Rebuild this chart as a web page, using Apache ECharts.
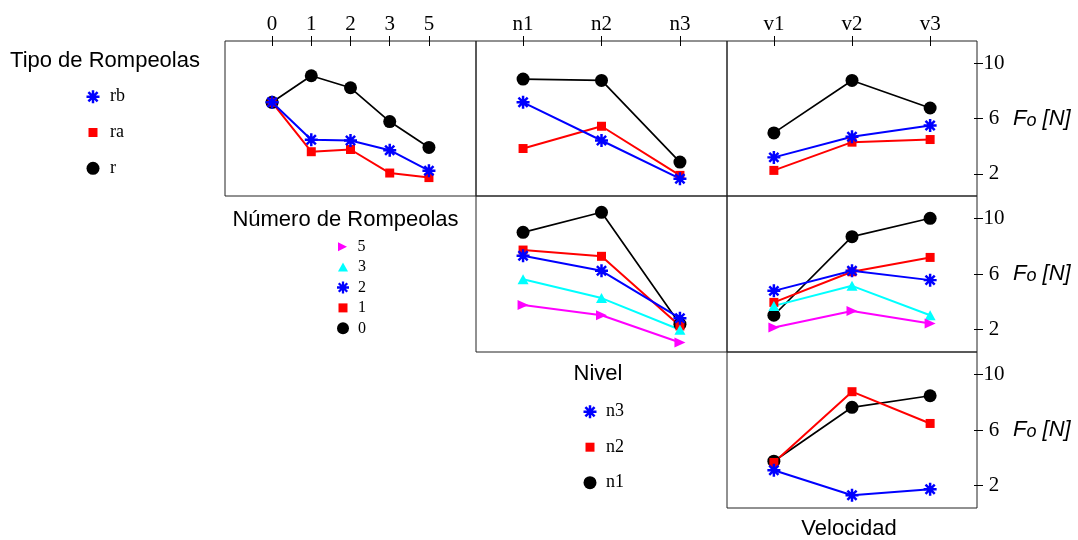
<!DOCTYPE html>
<html>
<head>
<meta charset="utf-8">
<script src="https://cdn.jsdelivr.net/npm/echarts@6/dist/echarts.min.js"></script>
<style>
  html, body { margin: 0; padding: 0; background: #fff; }
  #chart { width: 1078px; height: 540px; }
</style>
</head>
<body>
<div id="chart"></div>
<script>
// Factor levels (x axes)
const numeroLevels = ['0', '1', '2', '3', '5'];
const nivelLevels = ['n1', 'n2', 'n3'];
const velocidadLevels = ['v1', 'v2', 'v3'];
const yTickValues = [2, 6, 10];

// Mean Fo [N] by Tipo de Rompeolas across Número de Rompeolas
const rbByNumero = [7.17, 4.46, 4.41, 3.71, 2.23];
const raByNumero = [7.17, 3.60, 3.76, 2.06, 1.73];
const rByNumero  = [7.17, 9.09, 8.22, 5.78, 3.91];

// Mean Fo [N] by Tipo de Rompeolas across Nivel
const rbByNivel = [7.17, 4.41, 1.65];
const raByNivel = [3.83, 5.44, 1.89];
const rByNivel  = [8.85, 8.75, 2.85];

// Mean Fo [N] by Tipo de Rompeolas across Velocidad
const rbByVelocidad = [3.19, 4.68, 5.49];
const raByVelocidad = [2.25, 4.29, 4.48];
const rByVelocidad  = [4.96, 8.75, 6.76];

// Mean Fo [N] by Número de Rompeolas across Nivel
const num0ByNivel = [8.99, 10.43, 2.40];
const num1ByNivel = [7.72, 7.27, 2.27];
const num2ByNivel = [7.31, 6.23, 2.83];
const num3ByNivel = [5.63, 4.27, 2.00];
const num5ByNivel = [3.78, 3.04, 1.08];

// Mean Fo [N] by Número de Rompeolas across Velocidad
const num0ByVelocidad = [3.04, 8.68, 10.00];
const num1ByVelocidad = [3.96, 6.16, 7.19];
const num2ByVelocidad = [4.79, 6.23, 5.56];
const num3ByVelocidad = [3.71, 5.15, 3.04];
const num5ByVelocidad = [2.16, 3.35, 2.45];

// Mean Fo [N] by Nivel across Velocidad
const n1ByVelocidad = [3.76, 7.63, 8.46];
const n2ByVelocidad = [3.67, 8.75, 6.47];
const n3ByVelocidad = [3.11, 1.32, 1.75];

// ---- marker shapes ----
const ASTERISK = (() => {
  const L = 10, w = 1.9;
  let d = '';
  for (const deg of [0, 45, 90, 135]) {
    const a = deg * Math.PI / 180;
    const ux = Math.cos(a), uy = Math.sin(a), vx = -uy, vy = ux;
    const p = [
      [L * ux + w * vx, L * uy + w * vy],
      [-L * ux + w * vx, -L * uy + w * vy],
      [-L * ux - w * vx, -L * uy - w * vy],
      [L * ux - w * vx, L * uy - w * vy]
    ];
    d += 'M' + p.map(q => q[0].toFixed(3) + ',' + q[1].toFixed(3)).join('L') + 'Z';
  }
  return 'path://' + d;
})();
const TRI_RIGHT = 'path://M0,0L10,5L0,10Z';

const BLUE = '#0000ff', RED = '#ff0000', BLACK = '#000000', CYAN = '#00ffff', MAGENTA = '#ff00ff';

const markStyle = {
  rb: { color: BLUE, symbol: ASTERISK, size: 13, width: 2 },
  ra: { color: RED, symbol: 'rect', size: 9, width: 2 },
  r:  { color: BLACK, symbol: 'circle', size: 13, width: 1.7 },
  '5': { color: MAGENTA, symbol: TRI_RIGHT, size: [11, 10], width: 2 },
  '3': { color: CYAN, symbol: 'triangle', size: [11, 10], width: 2 },
  '2': { color: BLUE, symbol: ASTERISK, size: 13, width: 2 },
  '1': { color: RED, symbol: 'rect', size: 9, width: 2 },
  '0': { color: BLACK, symbol: 'circle', size: 13, width: 1.7 },
  n3: { color: BLUE, symbol: ASTERISK, size: 13, width: 2 },
  n2: { color: RED, symbol: 'rect', size: 9, width: 2 },
  n1: { color: BLACK, symbol: 'circle', size: 13, width: 1.7 }
};

// ---- panel layout ----
const colLeft = [225, 476, 727];
const colWidth = [251, 251, 250];
const rowTop = [41, 196, 352];
const rowHeight = [155, 156, 156];
const Y_MIN = 0.4, Y_MAX = 11.6;

const panels = [
  { row: 0, col: 0, levels: numeroLevels, top: true, right: false,
    lines: [['r', rByNumero], ['ra', raByNumero], ['rb', rbByNumero]] },
  { row: 0, col: 1, levels: nivelLevels, top: true, right: false,
    lines: [['r', rByNivel], ['ra', raByNivel], ['rb', rbByNivel]] },
  { row: 0, col: 2, levels: velocidadLevels, top: true, right: true,
    lines: [['r', rByVelocidad], ['ra', raByVelocidad], ['rb', rbByVelocidad]] },
  { row: 1, col: 1, levels: nivelLevels, top: false, right: false,
    lines: [['0', num0ByNivel], ['1', num1ByNivel], ['2', num2ByNivel], ['3', num3ByNivel], ['5', num5ByNivel]] },
  { row: 1, col: 2, levels: velocidadLevels, top: false, right: true,
    lines: [['0', num0ByVelocidad], ['1', num1ByVelocidad], ['2', num2ByVelocidad], ['3', num3ByVelocidad], ['5', num5ByVelocidad]] },
  { row: 2, col: 2, levels: velocidadLevels, top: false, right: true,
    lines: [['n1', n1ByVelocidad], ['n2', n2ByVelocidad], ['n3', n3ByVelocidad]] }
];

const SERIF = 'Liberation Serif';
const SANS = 'Liberation Sans';

const grid = [], xAxis = [], yAxis = [], series = [];

panels.forEach((p, gi) => {
  grid.push({
    left: colLeft[p.col], top: rowTop[p.row],
    width: colWidth[p.col], height: rowHeight[p.row],
    show: true, borderColor: '#222', borderWidth: 1
  });
  const n = p.levels.length;
  const ext = 0.3 * (n - 1);
  const positions = p.levels.map((_, i) => i + 1);

  const xi = xAxis.length;
  xAxis.push({
    gridIndex: gi, type: 'value', position: 'top',
    min: 1 - ext, max: n + ext, show: p.top,
    axisLine: { show: false }, splitLine: { show: false },
    axisTick: { show: true, customValues: positions, length: 5, lineStyle: { color: '#000', width: 1 } },
    axisLabel: {
      show: true, customValues: positions,
      formatter: v => p.levels[Math.round(v) - 1],
      fontFamily: SERIF, fontSize: 21, color: '#000', margin: 6
    }
  });
  if (p.top) {
    xAxis.push({
      gridIndex: gi, type: 'value', position: 'top',
      min: 1 - ext, max: n + ext,
      axisLine: { show: false }, splitLine: { show: false }, axisLabel: { show: false },
      axisTick: { show: true, inside: true, customValues: positions, length: 5, lineStyle: { color: '#000', width: 1 } }
    });
  }

  const yi = yAxis.length;
  yAxis.push({
    gridIndex: gi, type: 'value', position: 'right',
    min: Y_MIN, max: Y_MAX, show: p.right,
    axisLine: { show: false }, splitLine: { show: false },
    axisTick: { show: true, customValues: yTickValues, length: 6, lineStyle: { color: '#000', width: 1 } },
    axisLabel: {
      show: true, customValues: yTickValues, align: 'center',
      fontFamily: SERIF, fontSize: 21, color: '#000', margin: 17
    },
    name: '{F|F}{o|o} {N|[N]}', nameLocation: 'middle', nameRotate: 0, nameGap: 36,
    nameTextStyle: {
      color: '#000', fontFamily: SANS, fontStyle: 'italic', fontSize: 22,
      rich: {
        F: { fontFamily: SANS, fontStyle: 'italic', fontSize: 22, color: '#000', verticalAlign: 'bottom' },
        o: { fontFamily: SANS, fontStyle: 'italic', fontSize: 18, color: '#000', verticalAlign: 'bottom' },
        N: { fontFamily: SANS, fontStyle: 'italic', fontSize: 22, color: '#000', verticalAlign: 'bottom' }
      }
    }
  });
  if (p.right) {
    yAxis.push({
      gridIndex: gi, type: 'value', position: 'right',
      min: Y_MIN, max: Y_MAX,
      axisLine: { show: false }, splitLine: { show: false }, axisLabel: { show: false },
      axisTick: { show: true, inside: true, customValues: yTickValues, length: 3, lineStyle: { color: '#000', width: 1 } }
    });
  }

  p.lines.forEach(([name, values]) => {
    const s = markStyle[name];
    series.push({
      type: 'line', name, xAxisIndex: xi, yAxisIndex: yi,
      data: values.map((v, i) => [i + 1, v]),
      symbol: s.symbol, symbolSize: s.size, symbolKeepAspect: false,
      showAllSymbol: true,
      itemStyle: { color: s.color },
      lineStyle: { color: s.color, width: s.width },
      emphasis: { disabled: true }
    });
  });
});

// ---- legends: one entry per component so each key keeps its own size ----
const legendIconSize = {
  rb: [13, 13], ra: [9, 9], r: [13, 13],
  '5': [10, 9], '3': [10, 9], '2': [12, 12], '1': [9, 9], '0': [12, 12],
  n3: [13, 13], n2: [9, 9], n1: [13, 13]
};
const legendGroups = [
  { names: ['rb', 'ra', 'r'], x: 93, y0: 96.7, step: 35.8, textX: 110, font: 18 },
  { names: ['5', '3', '2', '1', '0'], x: 343, y0: 246.7, step: 20.4, textX: 358, font: 16 },
  { names: ['n3', 'n2', 'n1'], x: 590, y0: 411.7, step: 35.5, textX: 606, font: 18 }
];
const legend = [];
legendGroups.forEach(g => {
  g.names.forEach((name, k) => {
    const [w, h] = legendIconSize[name];
    const yc = g.y0 + k * g.step;
    const boxH = Math.max(h, g.font);
    legend.push({
      data: [{ name, icon: markStyle[name].symbol }],
      left: g.x - w / 2, top: yc - boxH / 2,
      itemWidth: w, itemHeight: h, padding: 0,
      selectedMode: false,
      textStyle: {
        fontFamily: SERIF, fontSize: g.font, color: '#000',
        padding: [0, 0, 0, g.textX - (g.x + w / 2) - 5]
      }
    });
  });
});

// ---- factor titles ----
const titleText = (text, x, y) => ({
  type: 'text', x, y,
  style: { text, fill: '#000', font: '22px "Liberation Sans"', align: 'center', verticalAlign: 'middle' }
});

const chart = echarts.init(document.getElementById('chart'), null, { renderer: 'canvas' });
chart.setOption({
  animation: false,
  backgroundColor: '#fff',
  grid, xAxis, yAxis, series, legend,
  graphic: [
    titleText('Tipo de Rompeolas', 105, 61),
    titleText('Número de Rompeolas', 345.5, 219.5),
    titleText('Nivel', 598, 374),
    titleText('Velocidad', 849, 529)
  ]
});
</script>
</body>
</html>
